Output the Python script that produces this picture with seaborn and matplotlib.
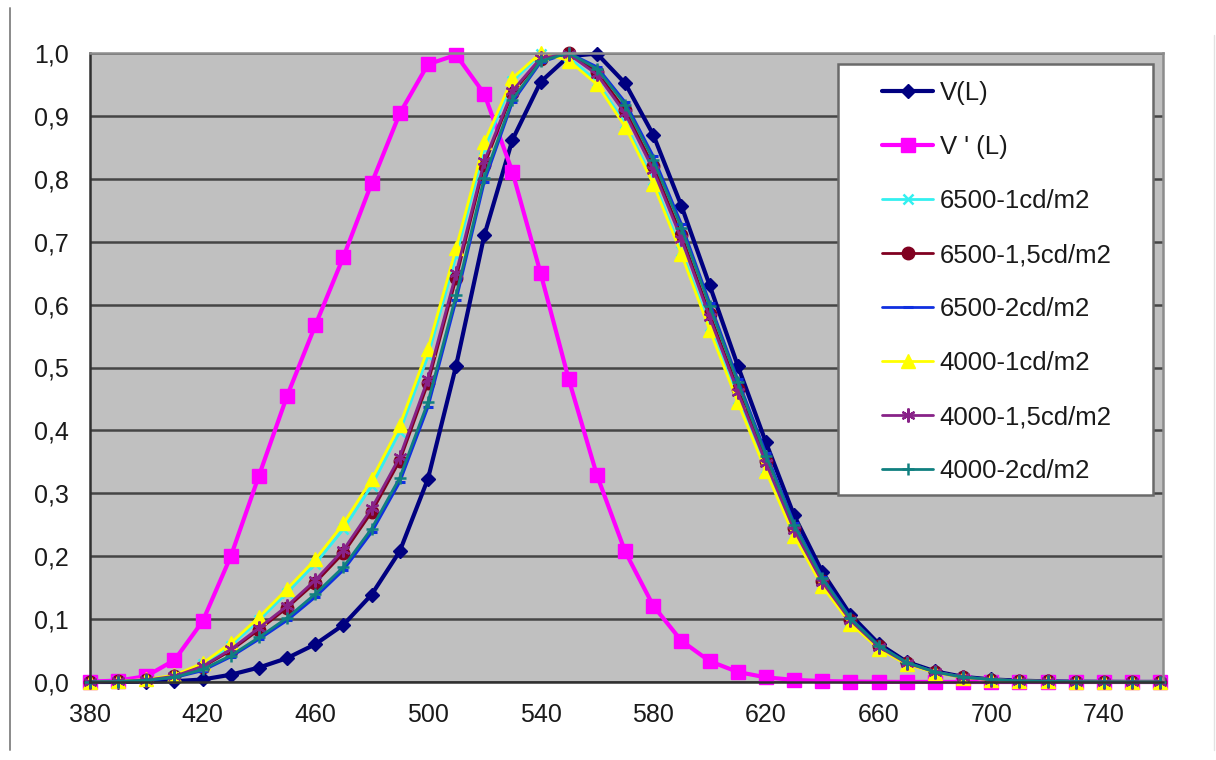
import matplotlib
matplotlib.use("Agg")
import matplotlib.pyplot as plt
from matplotlib.patches import Rectangle
from matplotlib.lines import Line2D
from matplotlib.ticker import FuncFormatter
import seaborn as sns

wavelengths = [380, 390, 400, 410, 420, 430, 440, 450, 460, 470,
               480, 490, 500, 510, 520, 530, 540, 550, 560, 570,
               580, 590, 600, 610, 620, 630, 640, 650, 660, 670,
               680, 690, 700, 710, 720, 730, 740, 750, 760]

v_photopic = [0.0000, 0.0001, 0.0004, 0.0012, 0.0040, 0.0116, 0.0230, 0.0380, 0.0600, 0.0910,
              0.1390, 0.2080, 0.3230, 0.5030, 0.7100, 0.8620, 0.9540, 0.9950, 0.9990, 0.9520,
              0.8700, 0.7570, 0.6310, 0.5030, 0.3810, 0.2650, 0.1750, 0.1070, 0.0610, 0.0320,
              0.0170, 0.0082, 0.0041, 0.0021, 0.0010, 0.0005, 0.0003, 0.0001, 0.0001]

v_scotopic = [0.0006, 0.0022, 0.0093, 0.0348, 0.0966, 0.1998, 0.3281, 0.4550, 0.5670, 0.6760,
              0.7930, 0.9040, 0.9820, 0.9970, 0.9350, 0.8110, 0.6500, 0.4810, 0.3288, 0.2076,
              0.1212, 0.0655, 0.0332, 0.0159, 0.0074, 0.0033, 0.0015, 0.0007, 0.0003, 0.0001,
              0.0001, 0.0000, 0.0000, 0.0000, 0.0000, 0.0000, 0.0000, 0.0000, 0.0000]

m6500_1 = [0.0003, 0.0010, 0.0036, 0.0100, 0.0280, 0.0580, 0.0980, 0.1420, 0.1880, 0.2430,
           0.3120, 0.3980, 0.5180, 0.6780, 0.8480, 0.9550, 0.9980, 0.9930, 0.9550, 0.8880,
           0.7980, 0.6860, 0.5660, 0.4500, 0.3400, 0.2360, 0.1550, 0.0950, 0.0540, 0.0290,
           0.0150, 0.0072, 0.0037, 0.0018, 0.0009, 0.0004, 0.0002, 0.0001, 0.0001]

m6500_15 = [0.0002, 0.0008, 0.0030, 0.0090, 0.0240, 0.0500, 0.0830, 0.1180, 0.1580, 0.2050,
            0.2700, 0.3520, 0.4750, 0.6420, 0.8220, 0.9370, 0.9900, 1.0000, 0.9700, 0.9090,
            0.8200, 0.7100, 0.5850, 0.4660, 0.3520, 0.2450, 0.1610, 0.0990, 0.0570, 0.0300,
            0.0160, 0.0077, 0.0039, 0.0020, 0.0010, 0.0005, 0.0002, 0.0001, 0.0001]

m6500_2 = [0.0002, 0.0006, 0.0025, 0.0070, 0.0180, 0.0400, 0.0680, 0.0980, 0.1350, 0.1780,
           0.2380, 0.3180, 0.4370, 0.6070, 0.7950, 0.9220, 0.9850, 1.0000, 0.9780, 0.9220,
           0.8360, 0.7280, 0.6030, 0.4810, 0.3640, 0.2530, 0.1670, 0.1020, 0.0580, 0.0310,
           0.0160, 0.0080, 0.0040, 0.0020, 0.0010, 0.0005, 0.0002, 0.0001, 0.0001]

m4000_1 = [0.0003, 0.0010, 0.0040, 0.0110, 0.0300, 0.0620, 0.1030, 0.1480, 0.1950, 0.2520,
           0.3220, 0.4080, 0.5300, 0.6900, 0.8580, 0.9600, 1.0000, 0.9880, 0.9500, 0.8830,
           0.7920, 0.6800, 0.5600, 0.4450, 0.3350, 0.2320, 0.1520, 0.0930, 0.0530, 0.0280,
           0.0150, 0.0070, 0.0036, 0.0018, 0.0009, 0.0004, 0.0002, 0.0001, 0.0001]

m4000_15 = [0.0002, 0.0008, 0.0031, 0.0092, 0.0250, 0.0520, 0.0860, 0.1210, 0.1620, 0.2100,
            0.2760, 0.3580, 0.4820, 0.6500, 0.8280, 0.9400, 0.9920, 0.9980, 0.9660, 0.9040,
            0.8140, 0.7040, 0.5800, 0.4610, 0.3480, 0.2420, 0.1590, 0.0980, 0.0560, 0.0300,
            0.0160, 0.0076, 0.0038, 0.0019, 0.0010, 0.0005, 0.0002, 0.0001, 0.0001]

m4000_2 = [0.0002, 0.0007, 0.0027, 0.0075, 0.0200, 0.0420, 0.0710, 0.1020, 0.1400, 0.1830,
           0.2440, 0.3250, 0.4450, 0.6150, 0.8020, 0.9260, 0.9870, 1.0000, 0.9750, 0.9180,
           0.8300, 0.7220, 0.5980, 0.4770, 0.3600, 0.2500, 0.1650, 0.1010, 0.0580, 0.0310,
           0.0160, 0.0079, 0.0040, 0.0020, 0.0010, 0.0005, 0.0002, 0.0001, 0.0001]

series_labels = ["V(L)", "V ' (L)", "6500-1cd/m2", "6500-1,5cd/m2", "6500-2cd/m2",
                 "4000-1cd/m2", "4000-1,5cd/m2", "4000-2cd/m2"]
series_values = [v_photopic, v_scotopic, m6500_1, m6500_15, m6500_2, m4000_1, m4000_15, m4000_2]

x_tick_values = [380, 420, 460, 500, 540, 580, 620, 660, 700, 740]
y_tick_values = [0.0, 0.1, 0.2, 0.3, 0.4, 0.5, 0.6, 0.7, 0.8, 0.9, 1.0]

# styles: color, marker, markersize, linewidth, marker edge width
styles = [
    ("#000080", "D", 7.5, 3.0, 1.0),
    ("#FF00FF", "s", 9.5, 3.0, 1.0),
    ("#33F0F0", "x", 7.0, 2.0, 1.8),
    ("#800020", "o", 9.0, 2.0, 1.0),
    ("#1030E0", "_", 7.5, 2.0, 2.2),
    ("#FFFF00", "^", 9.5, 2.0, 1.0),
    ("#882288", (6, 2, 0), 10.0, 2.0, 1.6),
    ("#108080", "+", 9.0, 2.0, 1.8),
]

sns.set_style("white")
plt.rcParams['font.family'] = ['Liberation Sans', 'DejaVu Sans']

fig = plt.figure(figsize=(12.16, 7.6), dpi=100)
fig.patch.set_facecolor("white")
ax = fig.add_axes([90 / 1216, 1 - 682 / 760, 1073 / 1216, 629 / 760])
ax.set_facecolor("#C0C0C0")

handles = []
for lab, vals, (col, mk, ms, lw, mew) in zip(series_labels, series_values, styles):
    sns.lineplot(x=wavelengths, y=vals, ax=ax, color=col, marker=mk, markersize=ms,
                 linewidth=lw, markeredgecolor=col, markerfacecolor=col,
                 markeredgewidth=mew, clip_on=False, legend=False)
    handles.append(Line2D([0], [0], color=col, marker=mk, markersize=ms, linewidth=lw,
                          markeredgecolor=col, markerfacecolor=col, markeredgewidth=mew))

ax.set_xlim(380, 761)
ax.set_ylim(0, 1.0)
ax.set_xticks(x_tick_values)
ax.set_yticks(y_tick_values)
ax.yaxis.set_major_formatter(FuncFormatter(lambda v, p: f"{v:.1f}".replace(".", ",")))
ax.set_xlabel("")
ax.set_ylabel("")

ax.set_axisbelow(True)
ax.yaxis.grid(True, color="#454545", linewidth=1.8)
ax.xaxis.grid(False)

for side in ["left", "bottom"]:
    ax.spines[side].set_color("#303030")
    ax.spines[side].set_linewidth(1.8)
for side in ["top", "right"]:
    ax.spines[side].set_color("#8c8c8c")
    ax.spines[side].set_linewidth(1.8)

ax.tick_params(axis="both", which="major", direction="out", length=6, width=1.4,
               color="#303030", labelsize=18, labelcolor="#1a1a1a", pad=9)

# legend frame
ax.add_patch(Rectangle((0.697, 0.2973), 0.2937, 0.6852, transform=ax.transAxes,
                       facecolor="white", edgecolor="#6a6a6a", linewidth=1.8, zorder=4,
                       clip_on=False))
leg = ax.legend(handles, series_labels, loc="upper left", bbox_to_anchor=(0.738, 0.9555),
                frameon=False, fontsize=18.5, borderpad=0, borderaxespad=0,
                handlelength=2.0, handletextpad=0.25, labelspacing=1.17, numpoints=1)
leg.set_zorder(5)
for t in leg.get_texts():
    t.set_color("#1a1a1a")

# thin frame lines of the original picture
fig.add_artist(Line2D([10 / 1216, 10 / 1216], [1 - 750 / 760, 1 - 8 / 760],
                      transform=fig.transFigure, color="#8a8a8a", linewidth=1.4))
fig.add_artist(Line2D([1214 / 1216, 1214 / 1216], [1 - 750 / 760, 1 - 35 / 760],
                      transform=fig.transFigure, color="#e2e2e2", linewidth=1.0))

fig.savefig("out.png", dpi=100, facecolor="white")
